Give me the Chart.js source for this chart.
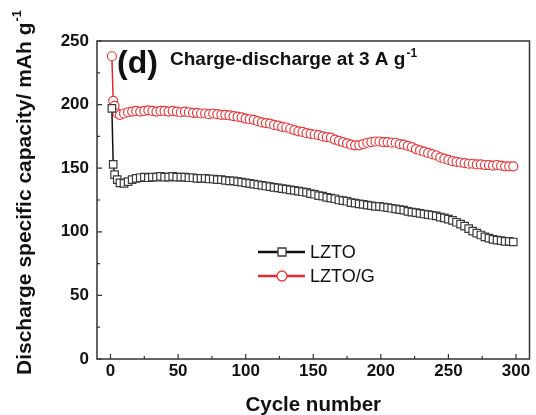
<!DOCTYPE html>
<html>
<head>
<meta charset="utf-8">
<script src="https://cdn.jsdelivr.net/npm/chart.js@4.4.1/dist/chart.umd.min.js"></script>
<style>
  html, body { margin: 0; padding: 0; background: #fff; }
  #wrap { width: 536px; height: 415px; }
</style>
</head>
<body>
<div id="wrap"><canvas id="chart" width="536" height="415"></canvas></div>
<script>
// cycle numbers for the plotted markers
const cycles = [1, 2, 3, 5, 7,
  10, 13, 16, 19, 22, 25, 28, 31, 34, 37,
  40, 43, 46, 49, 52, 55, 58, 61, 64, 67,
  70, 73, 76, 79, 82, 85, 88, 91, 94, 97,
  100, 103, 106, 109, 112, 115, 118, 121, 124, 127,
  130, 133, 136, 139, 142, 145, 148, 151, 154, 157,
  160, 163, 166, 169, 172, 175, 178, 181, 184, 187,
  190, 193, 196, 199, 202, 205, 208, 211, 214, 217,
  220, 223, 226, 229, 232, 235, 238, 241, 244, 247,
  250, 253, 256, 259, 262, 265, 268, 271, 274, 277,
  280, 283, 286, 289, 292, 295, 298];

const lzto = [197, 153, 145, 141, 138.5,
  138, 139.5, 141, 142, 142.5, 143, 142.5, 143, 143, 143.5,
  143, 143, 143.5, 143, 143, 143, 142.5, 142.5, 142, 142,
  142, 141.5, 141.5, 141, 141, 140.5, 140, 140, 139.5, 139,
  138.5, 138, 137.5, 137, 136.5, 136, 135.5, 135, 134.5, 134,
  133.5, 133, 132.5, 132, 131.5, 131, 130, 129.5, 128.5, 128,
  127, 126.5, 126, 125, 124.5, 124, 123, 122.5, 122, 121.5,
  121, 120.5, 120, 120, 119.5, 119, 118.5, 118, 117.5, 117,
  116, 115.5, 115, 114.5, 114, 113.5, 113, 112.5, 111.5, 111,
  110, 109, 107.5, 106, 104.5, 102.5, 100.5, 99, 97.5, 96,
  95, 94, 93.5, 93, 92.5, 92.5, 92];

const lztoG = [238, 203, 199, 193, 192,
  193, 194, 194.5, 195, 194.5, 195, 195.5, 195, 194.5, 195,
  195, 194.5, 195, 194.5, 194, 194.5, 194, 193.5, 193.5, 193,
  193, 192.5, 193, 192.5, 192, 192, 191.5, 191, 190.5, 190,
  189, 188.5, 188, 187, 186, 185.5, 185, 184, 183.5, 182.5,
  182, 181, 180, 179, 178.5, 177.5, 177, 176.5, 176, 175,
  174.5, 174, 172.5, 171.5, 170.5, 169.5, 168.5, 168, 168, 169,
  170, 170.5, 171, 171, 170.5, 170.5, 170, 170, 169, 168.5,
  167.5, 166.5, 165, 164, 163, 162, 161, 160, 158.5, 157.5,
  156.5, 155.5, 155, 154.5, 154, 153.5, 153.5, 153, 153, 152.5,
  152.5, 152, 152.5, 152, 151.5, 151.5, 151.5];

const xTicks = [0, 50, 100, 150, 200, 250, 300];
const yTicks = [0, 50, 100, 150, 200, 250];
const xMinorTicks = [25, 75, 125, 175, 225, 275];
const yMinorTicks = [25, 75, 125, 175, 225];

const toPoints = (vals) => vals.map((v, i) => ({ x: cycles[i], y: v }));

const BOLD = "'Liberation Sans', Arial, sans-serif";

// frame box plus inward ticks on the left and bottom
const framePlugin = {
  id: "frame",
  afterDatasetsDraw(chart) {
    const { ctx, chartArea: a, scales: { x, y } } = chart;
    ctx.save();
    ctx.strokeStyle = "#333";
    ctx.lineWidth = 1.5;
    ctx.strokeRect(a.left, a.top, a.right - a.left, a.bottom - a.top);

    ctx.lineWidth = 1.2;
    ctx.beginPath();
    xTicks.forEach((v) => { const px = x.getPixelForValue(v); ctx.moveTo(px, a.bottom); ctx.lineTo(px, a.bottom - 5); });
    xMinorTicks.forEach((v) => { const px = x.getPixelForValue(v); ctx.moveTo(px, a.bottom); ctx.lineTo(px, a.bottom - 3); });
    yTicks.forEach((v) => { const py = y.getPixelForValue(v); ctx.moveTo(a.left, py); ctx.lineTo(a.left + 5, py); });
    yMinorTicks.forEach((v) => { const py = y.getPixelForValue(v); ctx.moveTo(a.left, py); ctx.lineTo(a.left + 3, py); });
    ctx.stroke();
    ctx.restore();
  },
};

// panel letter, condition note, legend and y title with superscripts
const notesPlugin = {
  id: "notes",
  afterDraw(chart) {
    const { ctx, chartArea: a } = chart;
    ctx.save();
    ctx.fillStyle = "#111";
    ctx.textBaseline = "alphabetic";
    ctx.textAlign = "left";

    ctx.font = `bold 32px ${BOLD}`;
    ctx.fillText("(d)", a.left + 20, 73);

    ctx.font = `bold 19px ${BOLD}`;
    const note = "Charge-discharge at 3 A g";
    ctx.fillText(note, a.left + 73, 65);
    const nw = ctx.measureText(note).width;
    ctx.font = `bold 12px ${BOLD}`;
    ctx.fillText("-1", a.left + 73 + nw + 1, 57);

    // legend
    const rows = [
      { ds: chart.data.datasets[0], y: 252 },
      { ds: chart.data.datasets[1], y: 276 },
    ];
    rows.forEach(({ ds, y }) => {
      ctx.strokeStyle = ds.borderColor;
      ctx.lineWidth = 2.5;
      ctx.beginPath();
      ctx.moveTo(258, y);
      ctx.lineTo(305, y);
      ctx.stroke();
      ctx.fillStyle = "#fff";
      ctx.strokeStyle = ds.pointBorderColor;
      ctx.lineWidth = 1.3;
      ctx.beginPath();
      if (ds.pointStyle === "rect") {
        ctx.rect(278, y - 4, 8, 8);
      } else {
        ctx.arc(282, y, 5, 0, Math.PI * 2);
      }
      ctx.fill();
      ctx.stroke();
      ctx.fillStyle = "#111";
      ctx.font = `18px ${BOLD}`;
      ctx.textBaseline = "middle";
      ctx.fillText(ds.label, 310, y + 1);
    });

    // y axis title
    ctx.translate(25, 375);
    ctx.rotate(-Math.PI / 2);
    ctx.textBaseline = "middle";
    ctx.font = `bold 21px ${BOLD}`;
    const yt = "Discharge specific capacity/ mAh g";
    ctx.fillText(yt, 0, 0);
    const yw = ctx.measureText(yt).width;
    ctx.font = `bold 13px ${BOLD}`;
    ctx.fillText("-1", yw + 1, -8);
    ctx.restore();
  },
};

new Chart(document.getElementById("chart"), {
  type: "line",
  data: {
    datasets: [
      {
        label: "LZTO",
        data: toPoints(lzto),
        borderColor: "#111",
        borderWidth: 1.5,
        pointStyle: "rect",
        pointRadius: 5.3,
        pointBorderWidth: 1.2,
        pointBorderColor: "#3a3a3a",
        pointBackgroundColor: "#fff",
        tension: 0,
      },
      {
        label: "LZTO/G",
        data: toPoints(lztoG),
        borderColor: "#e8262b",
        borderWidth: 1.5,
        pointStyle: "circle",
        pointRadius: 4.5,
        pointBorderWidth: 1.2,
        pointBorderColor: "#e83a3d",
        pointBackgroundColor: "#fff",
        tension: 0,
      },
    ],
  },
  options: {
    responsive: false,
    animation: false,
    events: [],
    devicePixelRatio: 1,
    layout: { padding: { left: 0, right: 4, top: 41, bottom: 0 } },
    plugins: {
      legend: { display: false },
      tooltip: { enabled: false },
    },
    scales: {
      x: {
        type: "linear",
        min: -10,
        max: 310,
        afterBuildTicks: (scale) => { scale.ticks = xTicks.map((v) => ({ value: v })); },
        afterFit: (scale) => { scale.height = 56; },
        grid: { display: false, drawTicks: false },
        border: { display: false },
        ticks: {
          padding: 2,
          color: "#111",
          font: { family: BOLD, size: 17, weight: "bold" },
        },
        title: {
          display: true,
          text: "Cycle number",
          color: "#111",
          padding: { top: 0, bottom: 0 },
          font: { family: BOLD, size: 20.5, weight: "bold", lineHeight: 0.9 },
        },
      },
      y: {
        min: 0,
        max: 250,
        afterBuildTicks: (scale) => { scale.ticks = yTicks.map((v) => ({ value: v })); },
        afterFit: (scale) => { scale.width = 97; },
        grid: { display: false, drawTicks: false },
        border: { display: false },
        ticks: {
          padding: 8,
          color: "#111",
          font: { family: BOLD, size: 17, weight: "bold" },
        },
      },
    },
  },
  plugins: [framePlugin, notesPlugin],
});
</script>
</body>
</html>
